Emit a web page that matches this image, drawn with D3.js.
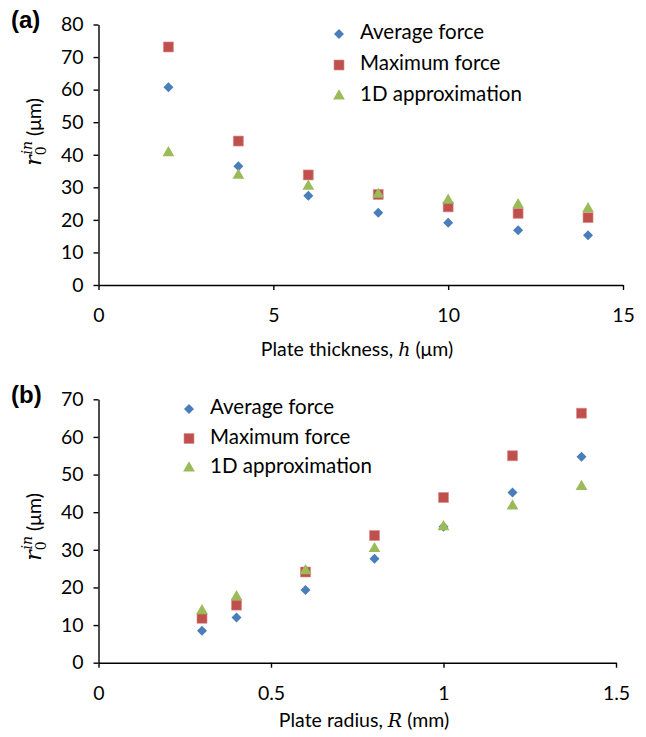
<!DOCTYPE html>
<html><head><meta charset="utf-8">
<script src="https://cdn.jsdelivr.net/npm/d3@7"></script>
<style>
html,body{margin:0;padding:0;background:#fff;}
svg text{font-family:Lato,"Open Sans",sans-serif;fill:#000;}
</style></head>
<body>
<svg id="chart" width="646" height="737"></svg>
<script>
// ---- data ----
const seriesNames = ["Average force", "Maximum force", "1D approximation"];
const thicknessH = [2, 4, 6, 8, 10, 12, 14];
const avgA = [60.7, 36.5, 27.4, 22.2, 19.1, 16.8, 15.3];
const maxA = [73.1, 44.2, 33.8, 27.8, 24.0, 22.0, 20.7];
const oneDA = [40.6, 33.7, 30.3, 27.8, 26.0, 24.6, 23.4];
const xTicksA = [0, 5, 10, 15];
const yTicksA = [0, 10, 20, 30, 40, 50, 60, 70, 80];

const radiusR = [0.3, 0.4, 0.6, 0.8, 1.0, 1.2, 1.4];
const avgB = [8.5, 12.0, 19.3, 27.6, 36.1, 45.2, 54.7];
const maxB = [11.8, 15.3, 24.1, 33.8, 43.9, 55.0, 66.3];
const oneDB = [13.8, 17.5, 24.4, 30.3, 36.1, 41.6, 46.8];
const xTicksB = [0, 0.5, 1, 1.5];
const yTicksB = [0, 10, 20, 30, 40, 50, 60, 70];

const colors = ["#4a7ebb", "#c0504d", "#9bbb59"];
const shapes = [d3.symbolSquare, d3.symbolSquare, d3.symbolTriangle];
const sizes = [50, 100, 60];
const rots = [45, 0, 0];

const svg = d3.select("#chart");

function marker(g, i, x, y) {
  g.append("path")
    .attr("d", d3.symbol().type(shapes[i]).size(sizes[i])())
    .attr("transform", `translate(${x},${y}) rotate(${rots[i]})`)
    .attr("fill", colors[i])
    .attr("stroke", i === 1 ? "#d98a88" : "none")
    .attr("stroke-width", 0.6);
}

function panel(cfg) {
  const g = svg.append("g");
  const x = d3.scaleLinear().domain(cfg.xDomain).range(cfg.xRange);
  const y = d3.scaleLinear().domain(cfg.yDomain).range(cfg.yRange);

  const xAxis = d3.axisBottom(x).tickValues(cfg.xTicks).tickSize(5).tickSizeOuter(0)
    .tickPadding(cfg.xPad).tickFormat(d3.format("~g"));
  const gx = g.append("g").attr("transform", `translate(0,${cfg.yRange[0]})`).call(xAxis);
  const yAxis = d3.axisLeft(y).tickValues(cfg.yTicks).tickSize(5).tickSizeOuter(0)
    .tickPadding(10).tickFormat(d3.format("d"));
  const gy = g.append("g").attr("transform", `translate(${cfg.xRange[0]},0)`).call(yAxis);
  [gx, gy].forEach(a => {
    a.selectAll("path.domain").attr("stroke", "#000").attr("stroke-width", 1.4);
    a.selectAll(".tick line").attr("stroke", "#000").attr("stroke-width", 1.4);
    a.selectAll(".tick text").style("font-size", "19.5px").style("font-family", "Lato, sans-serif").attr("fill", "#000");
  });

  const series = [cfg.avg, cfg.max, cfg.oneD];
  series.forEach((vals, i) => {
    vals.forEach((v, j) => marker(g, i, x(cfg.xs[j]), y(v)));
  });

  // legend
  seriesNames.forEach((name, i) => {
    const ly = cfg.legY + i * cfg.legDy;
    marker(g, i, cfg.legX, ly + 2);
    g.append("text").attr("x", cfg.legX + 21).attr("y", ly + 7)
      .style("font-size", "20.5px").text(name);
  });

  // panel label
  g.append("text").attr("x", 11).attr("y", cfg.labelY)
    .style("font-family", "'Liberation Sans', Arial, sans-serif")
    .style("font-weight", "bold").style("font-size", "24px").text(cfg.label);

  // x label
  const xl = g.append("text").attr("x", cfg.xLabelX).attr("y", cfg.xLabelY)
    .attr("text-anchor", "middle").style("font-size", "19.5px");
  xl.append("tspan").text(cfg.xLabelPre);
  xl.append("tspan").style("font-family", "'DejaVu Serif', serif").style("font-style", "italic")
    .style("font-size", "19px").text(cfg.xLabelVar);
  xl.append("tspan").text(cfg.xLabelPost);

  // y label
  const yl = g.append("text")
    .attr("transform", `translate(${cfg.yLabelX},${cfg.yLabelY}) rotate(-90)`)
    .attr("text-anchor", "middle").style("font-size", "19.5px");
  yl.append("tspan").style("font-family", "'DejaVu Serif', serif").style("font-style", "italic")
    .style("font-size", "22px").text("r");
  yl.append("tspan").style("font-family", "'DejaVu Serif', serif").style("font-size", "14px")
    .attr("dy", 5).text("0");
  yl.append("tspan").style("font-family", "'DejaVu Serif', serif").style("font-style", "italic")
    .style("font-size", "14px").attr("dx", -8).attr("dy", -14).text("in");
  yl.append("tspan").attr("dy", 9).text(" (μm)");
}

panel({
  xDomain: [0, 15], xRange: [98.5, 623], yDomain: [0, 80], yRange: [285, 24.5],
  xTicks: xTicksA, yTicks: yTicksA, xPad: 18,
  xs: thicknessH, avg: avgA, max: maxA, oneD: oneDA,
  legX: 339, legY: 32, legDy: 31,
  label: "(a)", labelY: 28,
  xLabelX: 357, xLabelY: 356, xLabelPre: "Plate thickness, ", xLabelVar: "h", xLabelPost: " (μm)",
  yLabelX: 41, yLabelY: 132
});

panel({
  xDomain: [0, 1.5], xRange: [98.5, 616], yDomain: [0, 70], yRange: [662.7, 399.3],
  xTicks: xTicksB, yTicks: yTicksB, xPad: 18,
  xs: radiusR, avg: avgB, max: maxB, oneD: oneDB,
  legX: 189, legY: 407, legDy: 29.5,
  label: "(b)", labelY: 403,
  xLabelX: 364, xLabelY: 727, xLabelPre: "Plate radius, ", xLabelVar: "R", xLabelPost: " (mm)",
  yLabelX: 41, yLabelY: 527
});
</script>
</body></html>
